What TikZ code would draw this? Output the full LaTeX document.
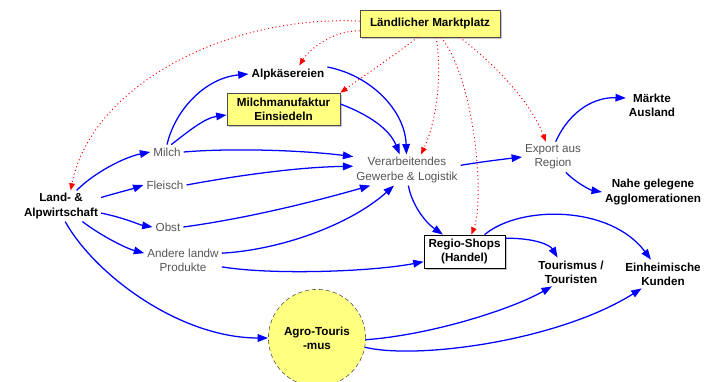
\documentclass[tikz,border=0pt]{standalone}
\usepackage{fontspec}
\setmainfont{Liberation Sans}
\usetikzlibrary{arrows.meta, shadows}
\definecolor{boxyellow}{RGB}{255,255,128}
\definecolor{flowblue}{RGB}{0,0,255}
\definecolor{marketred}{RGB}{255,0,0}
\definecolor{labelgray}{RGB}{85,85,85}

\begin{document}
\begin{tikzpicture}[
    x=0.025cm, y=-0.025cm,
    lbl/.style={align=center, inner sep=2pt, font=\fontsize{8.3}{10}\selectfont\bfseries},
    sub/.style={align=center, inner sep=2pt, font=\fontsize{8.3}{10}\selectfont, text=labelgray},
    box/.style={lbl, rectangle, draw=black!70, fill=boxyellow, drop shadow={shadow xshift=1.2pt, shadow yshift=-1.2pt, fill=black!45}},
    flow/.style={-{Triangle[length=2.6mm,width=1.9mm]}, flowblue, line width=0.9pt},
    link/.style={-{Triangle[length=1.8mm,width=1.4mm]}, marketred, dotted, line width=0.7pt}
]
\useasboundingbox (0,0) rectangle (706,382);

% Nodes
\node[box, minimum width=3.5cm, minimum height=0.675cm] (markt) at (430,23.5) {Ländlicher Marktplatz};
\node[lbl] (alpk) at (288,74) {Alpkäsereien};
\node[box, minimum width=2.83cm, minimum height=0.8cm] (manuf) at (283.5,109) {Milchmanufaktur\\Einsiedeln};
\node[lbl] (land) at (61,206) {Land- \&\\Alpwirtschaft};
\node[sub] (milch) at (167,152) {Milch};
\node[sub] (fleisch) at (165,185) {Fleisch};
\node[sub] (obst) at (168,227) {Obst};
\node[sub] (andere) at (183,260) {Andere landw\\Produkte};
\node[lbl, circle, draw=black!70, densely dashed, thin, fill=boxyellow, minimum size=2.43cm] (agro) at (317,338) {Agro-Touris\\-mus};
\node[sub] (verarb) at (407,170) {Verarbeitendes\\Gewerbe \& Logistik};
\node[sub] (export) at (553,157) {Export aus\\Region};
\node[lbl] (ausland) at (652,105) {Märkte\\Ausland};
\node[lbl] (nahe) at (653,192) {Nahe gelegene\\Agglomerationen};
\node[box, fill=white, draw=black, minimum width=2.03cm, minimum height=0.83cm] (regio) at (464.5,251.5) {Regio-Shops\\(Handel)};
\node[lbl] (tour) at (571,272) {Tourismus /\\Touristen};
\node[lbl] (kunden) at (663,274) {Einheimische\\Kunden};

% Product flows
\draw[flow] (land.45) .. controls (95,172) and (125,157) .. (milch.west);
\draw[flow] (land.12) .. controls (120,192) and (132,189) .. (fleisch.west);
\draw[flow] (land.-10) .. controls (125,218) and (140,225) .. (obst.west);
\draw[flow] (land.-36) .. controls (100,235) and (125,248) .. (andere.170);
\draw[flow] (land.-75) .. controls (95,275) and (180,338) .. (agro.west);

\draw[flow] (milch.north) .. controls (175,110) and (205,78) .. (alpk.west);
\draw[flow] (milch.60) .. controls (190,130) and (205,118) .. (manuf.186);
\draw[flow] (milch.east) .. controls (230,148) and (300,150) .. (verarb.166);
\draw[flow] (fleisch.east) .. controls (240,175) and (300,167) .. (verarb.176);
\draw[flow] (obst.east) .. controls (250,218) and (320,200) .. (verarb.203);
\draw[flow] (andere.10) .. controls (280,250) and (350,225) .. (verarb.230);
\draw[flow] (andere.-10) .. controls (270,275) and (370,272) .. (regio.194);

\draw[flow] (alpk.10) .. controls (370,75) and (405,110) .. (verarb.92);
\draw[flow] (manuf.5) .. controls (370,115) and (390,130) .. (verarb.115);
\draw[flow] (verarb.5) .. controls (480,162) and (505,159) .. (export.west);
\draw[flow] (verarb.-85) .. controls (412,205) and (425,222) .. (regio.142);

\draw[flow] (export.80) .. controls (570,110) and (595,97) .. (ausland.165);
\draw[flow] (export.-50) .. controls (575,182) and (590,190) .. (nahe.west);
\draw[flow] (regio.18) .. controls (535,238) and (550,245) .. (tour.133);
\draw[flow] (regio.40) .. controls (520,205) and (610,205) .. (kunden.130);
\draw[flow] (agro.-2) .. controls (430,335) and (510,310) .. (tour.217);
\draw[flow] (agro.-11) .. controls (420,360) and (560,340) .. (kunden.214);

% Marketplace links
\draw[link] (markt.178) .. controls (220,15) and (90,90) .. (land.58);
\draw[link] (markt.186) .. controls (335,30) and (310,48) .. (alpk.37);
\draw[link] (markt.228) .. controls (395,55) and (365,75) .. (manuf.north east);
\draw[link] (markt.-66) .. controls (443,80) and (435,125) .. (verarb.48);
\draw[link] (markt.-51) .. controls (475,80) and (485,200) .. (regio.68);
\draw[link] (markt.-25) .. controls (490,60) and (530,100) .. (export.115);

\end{tikzpicture}
\end{document}
